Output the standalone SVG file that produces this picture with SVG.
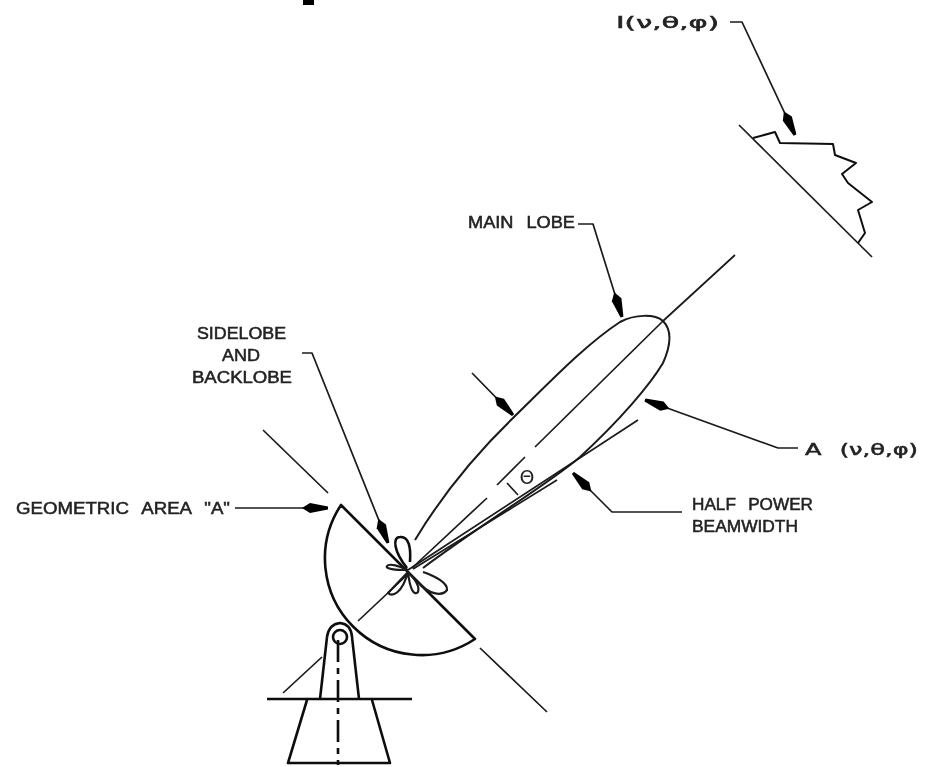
<svg xmlns="http://www.w3.org/2000/svg" width="928" height="767" viewBox="0 0 928 767">
<defs>
<filter id="soft" x="-5%" y="-5%" width="110%" height="110%"><feGaussianBlur stdDeviation="0.75"/></filter>
<marker id="ah" markerUnits="userSpaceOnUse" markerWidth="30" markerHeight="14" refX="28" refY="7" orient="auto"><path d="M2 7L10 2L28 5.500L28 8.500L10 12Z" fill="#000"/></marker>
</defs>
<style>
.l{fill:none;stroke:#1a1a1a;stroke-width:1.7;stroke-linejoin:round}
.h{fill:none;stroke:#111;stroke-width:2.6;stroke-linejoin:round}
.t{fill:#222;font-family:"Liberation Sans",Arial,sans-serif;font-size:16px;stroke:#222;stroke-width:.5;word-spacing:7px}
</style>
<rect width="928" height="767" fill="#fff"/>
<g filter="url(#soft)">
<rect x="303" y="0" width="11" height="5" fill="#000"/>
<g id="connectors">
<path class="l" marker-end="url(#ah)" d="M730 22H742L795 135"/>
<path class="l" marker-end="url(#ah)" d="M578 224H593L622 317"/>
<path class="l" marker-end="url(#ah)" d="M472 373L513 415"/>
<path class="l" marker-end="url(#ah)" d="M798 448H778L645 400"/>
<path class="l" marker-end="url(#ah)" d="M682 512H612L573 473"/>
<path class="l" marker-end="url(#ah)" d="M302 353H312L388 543"/>
<path class="l" marker-end="url(#ah)" d="M235 508H328"/>
</g>
<g id="dish">
<path class="h" d="M341 505A96.700 96.700 0 0 0 475 639Z"/>
<path class="l" d="M263 430L328 493M480 648L547 712M407 575L358 621"/>
</g>
<g id="mount">
<circle class="h" cx="340" cy="637" r="7"/>
<path class="h" d="M327 637Q329 624 340 623Q351 624 352 637"/>
<path class="h" d="M327 637L320 699M352 637L359 699M267 699H412M307 700L288 763H390L372 700"/>
<path class="l" d="M283 693L322 657"/>
<path class="h" stroke-dasharray="22 6 6 6" d="M338 640V765"/>
</g>
<g id="main-lobe">
<path class="l" style="stroke-width:2" d="M415 540C445 490 480 450 513 418C550 382 585 345 620 322C635 314 655 314 663 321C672 330 671 345 663 363C650 385 620 420 580 457C550 483 480 525 423 568"/>
<path class="l" d="M735 255L663 321L535 447M487 498L412 568"/>
<path class="l" d="M408 570L638 420M413 569L557 480"/>
<path class="l" d="M497 485L525 457M507 483L518 495"/>
</g>
<g id="side-lobes">
<path class="h" d="M407 568C394 552 392 537 400 537C409 536 411 548 410 562"/>
<path class="l" style="stroke-width:2.200" d="M408 570C395 570 385 569 387 566C389 563 400 566 408 570"/>
<path class="l" style="stroke-width:2.200" d="M408 572L388 593C392 597 402 594 408 572C410 590 414 596 418 592C420 586 414 578 408 572"/>
<path class="l" style="stroke-width:2.200" d="M423 572C435 576 448 583 447 590C442 597 428 594 418 582"/>
</g>
<g id="aperture-field">
<path class="l" d="M739 125L872 257"/>
<path class="h" style="stroke-width:2" d="M753 138L775 132L780 143L833 144L835 155L856 163L842 174L848 183L872 202L858 210L865 233L858 243"/>
</g>
<g id="labels">
<text class="t" x="616" y="28" textLength="103" lengthAdjust="spacingAndGlyphs" style="font-family:'DejaVu Sans',sans-serif">I(ν,θ,φ)</text>
<text class="t" x="468" y="228" textLength="107" lengthAdjust="spacingAndGlyphs">MAIN LOBE</text>
<text class="t" x="197" y="339" textLength="89" lengthAdjust="spacingAndGlyphs">SIDELOBE</text>
<text class="t" x="222" y="361" textLength="38" lengthAdjust="spacingAndGlyphs">AND</text>
<text class="t" x="192" y="383" textLength="100" lengthAdjust="spacingAndGlyphs">BACKLOBE</text>
<text class="t" x="16" y="514" textLength="214" lengthAdjust="spacingAndGlyphs">GEOMETRIC AREA "A"</text>
<text class="t" x="805" y="455" textLength="113" lengthAdjust="spacingAndGlyphs" style="font-family:'DejaVu Sans',sans-serif">A (ν,θ,φ)</text>
<text class="t" x="692" y="510" textLength="121" lengthAdjust="spacingAndGlyphs">HALF POWER</text>
<text class="t" x="692" y="532" textLength="106" lengthAdjust="spacingAndGlyphs">BEAMWIDTH</text>
<text class="t" x="527" y="484" text-anchor="middle" style="font-size:19px;font-family:'DejaVu Sans',sans-serif;stroke:none">Θ</text>
</g>
</g>
</svg>
